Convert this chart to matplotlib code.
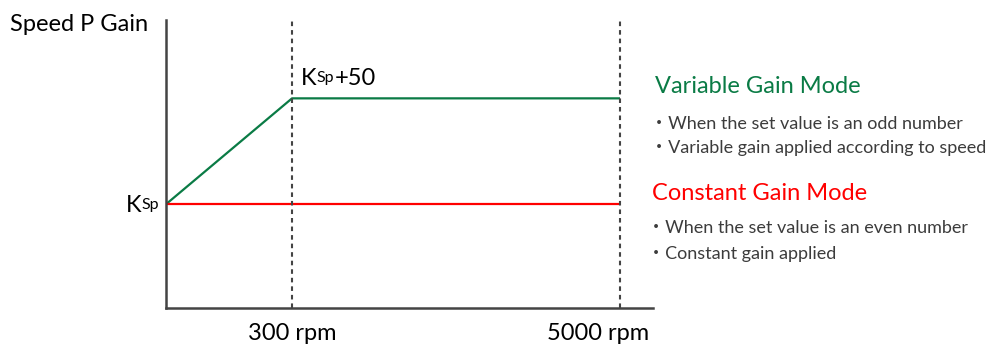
import numpy as np
import matplotlib
matplotlib.use("Agg")
import matplotlib.pyplot as plt

plt.rcParams['font.family'] = ['Lato', 'Noto Sans CJK JP', 'DejaVu Sans']

# schematic data (gain relative to Ksp)
speed_rpm = [0, 300, 5000]
variable_gain = [0, 50, 50]
constant_gain = [0, 0, 0]
tick_speeds = [300, 5000]
tick_labels = ["300 rpm", "5000 rpm"]

green = "#0a7b45"
red = "#ff0000"
axis_col = "#444444"
text_col = "#3c3c3c"

# piecewise scale so the diagram is not linear in rpm
knots_rpm = [0, 300, 5000, 5500]
knots_u = [0, 1, 3.603, 3.865]
fwd = lambda x: np.interp(x, knots_rpm, knots_u)
inv = lambda u: np.interp(u, knots_u, knots_rpm)

fig = plt.figure(figsize=(9.9, 3.45), dpi=100)
ax = fig.add_axes([166 / 990, 37 / 345, 487 / 990, 288 / 345])
ax.set_xscale('function', functions=(fwd, inv))
ax.set_xlim(0, 5500)
ax.set_ylim(-49, 87)

ax.plot(speed_rpm, variable_gain, color=green, lw=1.6, solid_capstyle='butt')
ax.plot(speed_rpm, constant_gain, color=red, lw=1.6, solid_capstyle='butt')
for s in tick_speeds:
    ax.axvline(s, color=axis_col, lw=1.5, dashes=(2.2, 1.9), zorder=5)

for side in ['top', 'right']:
    ax.spines[side].set_visible(False)
for side in ['left', 'bottom']:
    ax.spines[side].set_color(axis_col)
    ax.spines[side].set_linewidth(1.8)
ax.set_xticks([])
ax.set_yticks([])

# speed labels
ax.annotate(tick_labels[0], (tick_speeds[0], -49), xytext=(0, -32),
            textcoords='offset pixels', ha='center', va='baseline',
            fontsize=17, color='black')
ax.annotate(tick_labels[1], (tick_speeds[1], -49), xytext=(29, -32),
            textcoords='offset pixels', ha='right', va='baseline',
            fontsize=17, color='black')

# Ksp label at origin
ax.annotate("K", (speed_rpm[0], constant_gain[0]), xytext=(-40, -8),
            textcoords='offset pixels', ha='left', va='baseline', fontsize=17)
ax.annotate("Sp", (speed_rpm[0], constant_gain[0]), xytext=(-25, -5),
            textcoords='offset pixels', ha='left', va='baseline', fontsize=11.5)

# Ksp+50 label
ax.annotate("K", (speed_rpm[1], variable_gain[1]), xytext=(9, 13),
            textcoords='offset pixels', ha='left', va='baseline', fontsize=17)
ax.annotate("Sp", (speed_rpm[1], variable_gain[1]), xytext=(24, 16),
            textcoords='offset pixels', ha='left', va='baseline', fontsize=11.5)
ax.annotate("+50", (speed_rpm[1], variable_gain[1]), xytext=(43, 13),
            textcoords='offset pixels', ha='left', va='baseline', fontsize=17)

def ftext(x, y, s, **kw):
    fig.text(x / 990, 1 - y / 345, s, va='baseline', **kw)

ftext(10, 31, "Speed P Gain", fontsize=17, color='black')

ftext(655, 93, "Variable Gain Mode", fontsize=17, color=green)
ftext(650, 129, "・When the set value is an odd number", fontsize=13, color=text_col)
ftext(650, 153, "・Variable gain applied according to speed", fontsize=13, color=text_col)

ftext(652, 200, "Constant Gain Mode", fontsize=17, color=red)
ftext(647, 233, "・When the set value is an even number", fontsize=13, color=text_col)
ftext(647, 259, "・Constant gain applied", fontsize=13, color=text_col)

fig.savefig("out.png", dpi=100)
